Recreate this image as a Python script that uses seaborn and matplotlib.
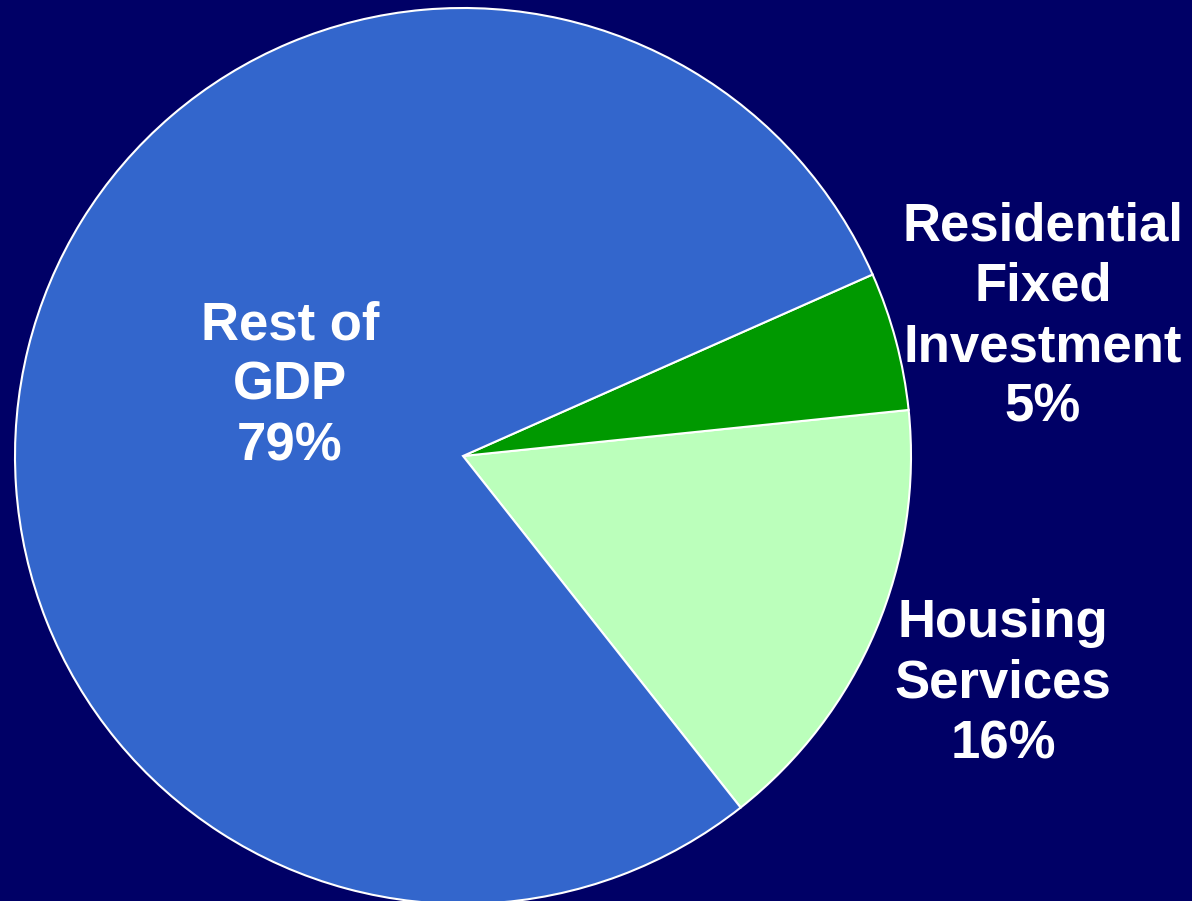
import matplotlib
matplotlib.use("Agg")
import matplotlib.pyplot as plt
import seaborn as sns

sns.set_theme(style="white")
plt.rcParams['font.family'] = ['Liberation Sans', 'DejaVu Sans']

# Share of GDP by component
categories = ["Housing\nServices", "Residential\nFixed\nInvestment", "Rest of\nGDP"]
shares = [16, 5, 79]
colors = ["#BBFFBB", "#009900", "#3366CC"]

# Label anchor points (pixel space of the canvas)
label_x = [1003, 1043, 290]
label_y = [684, 317, 386]

W, H = 1192, 901
bg = "#000066"

fig = plt.figure(figsize=(W / 100, H / 100), dpi=100, facecolor=bg)
ax = fig.add_axes([0, 0, 1, 1])
ax.set_facecolor(bg)

cx, cy, r = 463, 456, 448
wedges, _ = ax.pie(
    shares,
    colors=colors,
    startangle=51.7,
    counterclock=False,
    center=(cx, cy),
    radius=r,
    frame=True,
    wedgeprops=dict(edgecolor="white", linewidth=1.5),
)
ax.set_xlim(0, W)
ax.set_ylim(H, 0)
ax.set_aspect("equal")
ax.axis("off")

for cat, val, x, y in zip(categories, shares, label_x, label_y):
    ax.text(x, y, f"{cat}\n{val}%", ha="center", va="center",
            color="white", fontsize=38, fontweight="bold", linespacing=1.27)

fig.savefig("out.png", dpi=100, facecolor=bg)
